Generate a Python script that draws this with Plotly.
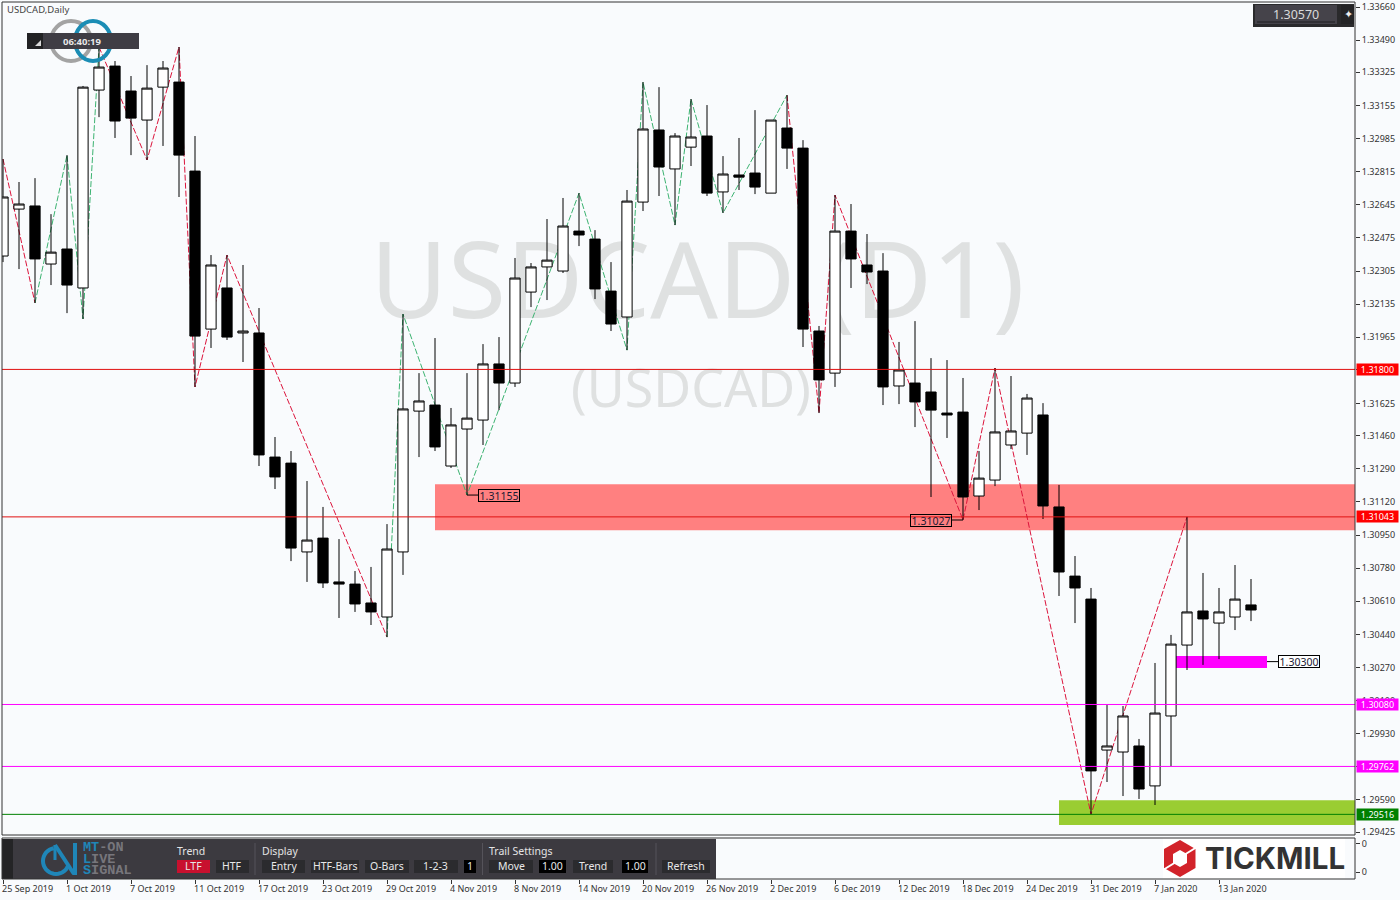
import math
import plotly.graph_objects as go

# ---------- data ----------
opens = [1.32382,1.32623,1.32639,1.32341,1.32418,1.32218,1.33234,1.33357,1.33229,1.33080,1.33249,1.33275,1.32818,1.32007,1.32218,1.31987,
         1.31987,1.31350,1.31319,1.30863,1.30934,1.30709,1.30698,1.30601,1.30529,1.30863,1.31586,1.31617,1.31304,1.31494,1.31540,1.31828,
         1.31730,1.32197,1.32326,1.32305,1.32510,1.32469,1.32202,1.32069,1.32659,1.33029,1.32829,1.32941,1.32998,1.32711,1.32798,1.32808,
         1.32705,1.33039,1.32936,1.31997,1.31781,1.32510,1.32336,1.32305,1.31715,1.31730,1.31684,1.31576,1.31581,1.31150,1.31232,1.31412,
         1.31473,1.31566,1.31094,1.30739,1.30621,1.29846,1.29836,1.29867,1.29662,1.30021,1.30385,1.30560,1.30498,1.30529,1.30591]
highs = [1.32880,1.32762,1.32782,1.32597,1.32900,1.33255,1.33455,1.33383,1.33306,1.33362,1.33383,1.33455,1.32998,1.32387,1.32387,1.32336,
         1.32115,1.31453,1.31381,1.31227,1.31094,1.30929,1.30765,1.30786,1.31006,1.32084,1.31781,1.31961,1.31602,1.31781,1.31930,1.31966,
         1.32372,1.32346,1.32572,1.32680,1.32705,1.32515,1.32351,1.32721,1.33275,1.33249,1.33013,1.33188,1.33157,1.32895,1.32988,1.33131,
         1.33080,1.33208,1.32977,1.32023,1.32695,1.32649,1.32495,1.32397,1.31941,1.32048,1.31858,1.31848,1.31756,1.31381,1.31807,1.31766,
         1.31674,1.31627,1.31207,1.30842,1.30678,1.30077,1.30072,1.29903,1.30293,1.30437,1.31043,1.30755,1.30678,1.30796,1.30724]
lows  = [1.32351,1.32315,1.32141,1.32233,1.32089,1.32059,1.33095,1.32988,1.32900,1.32875,1.32947,1.32685,1.31710,1.31910,1.31951,1.31838,
         1.31304,1.31186,1.30816,1.30709,1.30678,1.30524,1.30555,1.30488,1.30426,1.30745,1.31350,1.31381,1.31294,1.31155,1.31412,1.31591,
         1.31710,1.32120,1.32156,1.32295,1.32433,1.32161,1.31997,1.31899,1.32613,1.32690,1.32541,1.32844,1.32690,1.32603,1.32721,1.32700,
         1.32705,1.32829,1.31915,1.31576,1.31710,1.32218,1.32238,1.31617,1.31622,1.31504,1.31145,1.31448,1.31027,1.31078,1.31201,1.31391,
         1.31361,1.31032,1.30637,1.30498,1.29516,1.29682,1.29610,1.29595,1.29564,1.29764,1.30257,1.30283,1.30313,1.30462,1.30508]
closes = [1.32685,1.32649,1.32367,1.32402,1.32233,1.33249,1.33352,1.33075,1.33090,1.33244,1.33347,1.32900,1.31971,1.32336,1.31966,1.31997,
          1.31361,1.31248,1.30883,1.30924,1.30704,1.30698,1.30596,1.30555,1.30878,1.31597,1.31638,1.31402,1.31515,1.31550,1.31828,1.31730,
          1.32269,1.32326,1.32361,1.32536,1.32490,1.32213,1.32033,1.32664,1.33034,1.32839,1.32998,1.32993,1.32705,1.32803,1.32787,1.32736,
          1.33080,1.32936,1.32007,1.31746,1.32510,1.32367,1.32300,1.31710,1.31797,1.31633,1.31591,1.31566,1.31145,1.31242,1.31479,1.31484,
          1.31653,1.31099,1.30760,1.30678,1.29739,1.29867,1.30021,1.29646,1.30036,1.30390,1.30555,1.30519,1.30555,1.30621,1.30565]

red_x = [0,2,None,6,9,11,12,14,24,None,49,51,52,60,62,68,74]
red_y = [1.32880,1.32141,None,1.33455,1.32875,1.33455,1.31710,1.32387,1.30426,None,1.33208,1.31576,1.32695,1.31027,1.31807,1.29516,1.31043]
green_x = [2,4,5,6,None,24,25,29,36,39,40,42,43,45,49]
green_y = [1.32141,1.32900,1.32059,1.33455,None,1.30426,1.32084,1.31155,1.32705,1.31899,1.33275,1.32541,1.33188,1.32603,1.33208]

date_labels = ["25 Sep 2019","1 Oct 2019","7 Oct 2019","11 Oct 2019","17 Oct 2019","23 Oct 2019","29 Oct 2019",
               "4 Nov 2019","8 Nov 2019","14 Nov 2019","20 Nov 2019","26 Nov 2019","2 Dec 2019","6 Dec 2019",
               "12 Dec 2019","18 Dec 2019","24 Dec 2019","31 Dec 2019","7 Jan 2020","13 Jan 2020"]
price_ticks = [1.33660,1.33490,1.33325,1.33155,1.32985,1.32815,1.32645,1.32475,1.32305,1.32135,
               1.31965,1.31800,1.31625,1.31460,1.31290,1.31120,1.30950,1.30780,1.30610,1.30440,
               1.30270,1.30100,1.29930,1.29760,1.29590,1.29425]
# the labels of 1.31800 and 1.29760 are fully covered by the level tags in the reference
price_tick_text = ["1.33660","1.33490","1.33325","1.33155","1.32985","1.32815","1.32645","1.32475","1.32305","1.32135",
                   "1.31965","","1.31625","1.31460","1.31290","1.31120","1.30950","1.30780","1.30610","1.30440",
                   "1.30270","1.30100","1.29930","","1.29590","1.29425"]
level_values = ["1.31800","1.31043","1.30080","1.29762","1.29516"]
level_colors = ["#FF0000","#FF0000","#FF00FF","#FF00FF","#008000"]
line_colors  = ["#E01010","#E01010","#FF00FF","#FF00FF","#008000"]
zones = [(27, 84.5, 1.31211, 1.30975, "#FF8080"),
         (66, 84.5, 1.29589, 1.29461, "#9ACD32"),
         (73, 79, 1.30329, 1.30267, "#FF00FF")]
point_labels = [("1.31155", 29, 1, 1.31155, "rgba(0,0,0,0)"),
                ("1.31027", 60, -1, 1.31027, "rgba(0,0,0,0)"),
                ("1.30300", 79, 1, 1.30300, "#FFFFFF")]
Y_RANGE = [1.29410, 1.33686]
BG = "#F9FBFD"
FONT = "Noto Sans"
DARK = "#333333"

# ---------- helpers for the window furniture (pixel based) ----------
L, R, T, B = 2, 1355, 2, 879
def px(x): return (x - L) / (R - L)
def py(y): return (B - y) / (B - T)

shapes, annos = [], []
def rect(x0, y0, x1, y1, fill, line=None, layer="above"):
    shapes.append(dict(type="rect", xref="paper", yref="paper", x0=px(x0), x1=px(x1), y0=py(y0), y1=py(y1),
                       fillcolor=fill, line=dict(color=line or fill, width=1 if line else 0), layer=layer))
def seg(x0, y0, x1, y1, color, w=1):
    shapes.append(dict(type="line", xref="paper", yref="paper", x0=px(x0), x1=px(x1), y0=py(y0), y1=py(y1),
                       line=dict(color=color, width=w), layer="above"))
def poly(pts, fill):
    d = "M" + " L".join(f"{px(a):.5f},{py(b):.5f}" for a, b in pts) + " Z"
    shapes.append(dict(type="path", xref="paper", yref="paper", path=d, fillcolor=fill, line=dict(width=0), layer="above"))
def stroke(pts, color, w):
    d = "M" + " L".join(f"{px(a):.5f},{py(b):.5f}" for a, b in pts)
    shapes.append(dict(type="path", xref="paper", yref="paper", path=d, line=dict(color=color, width=w), layer="above"))
def txt(x, y, s, size=10.5, color="#E4E4E4", anchor="left", family=FONT, height=None):
    a = dict(xref="paper", yref="paper", x=px(x), y=py(y), text=s, showarrow=False, xanchor=anchor, yanchor="middle",
             font=dict(size=size, color=color, family=family), borderpad=0, borderwidth=0)
    if height:
        a["height"] = height
    annos.append(a)

# ---------- price zones, levels, labels ----------
for x0, x1, y0, y1, c in zones:
    shapes.append(dict(type="rect", xref="x", yref="y", x0=x0, x1=x1, y0=y0, y1=y1, fillcolor=c, line=dict(width=0), layer="below"))
for v, c in zip(level_values, line_colors):
    shapes.append(dict(type="line", xref="paper", yref="y", x0=0, x1=1, y0=float(v), y1=float(v), line=dict(color=c, width=1), layer="above"))
for v, c in zip(level_values, level_colors):
    annos.append(dict(xref="paper", yref="y", x=px(1356), y=float(v), text=v, showarrow=False, xanchor="left", yanchor="middle",
                      width=41, height=11, bgcolor=c, font=dict(size=9, color="#FFFFFF", family=FONT), borderpad=0))
for s, xi, d, v, bg in point_labels:
    shapes.append(dict(type="line", xref="x", yref="y", x0=xi, x1=xi + d * 0.7, y0=v, y1=v, line=dict(color="#000000", width=1), layer="above"))
    annos.append(dict(xref="x", yref="y", x=xi + d * 0.7, y=v, text=s, showarrow=False, xanchor="left" if d > 0 else "right", yanchor="middle",
                      width=40, height=11, bgcolor=bg, bordercolor="#000000", borderwidth=1, borderpad=0,
                      font=dict(size=10.5, color="#1A1A33", family=FONT)))

# ---------- top-left caption, rings and timer ----------
txt(7, 10, "USDCAD,Daily", 9.5, "#444444")
shapes.append(dict(type="circle", xref="paper", yref="paper", x0=px(51), x1=px(91), y0=py(61), y1=py(21),
                   line=dict(color="#A3A3A3", width=4), fillcolor="rgba(0,0,0,0)", layer="above"))
shapes.append(dict(type="circle", xref="paper", yref="paper", x0=px(75), x1=px(111), y0=py(61), y1=py(21),
                   line=dict(color="#1B8DB5", width=4), fillcolor="rgba(0,0,0,0)", layer="above"))
rect(27, 33, 139, 49, "#3F3D44")
rect(27, 33, 43, 49, "#222224")
poly([(35, 46), (41, 46), (41, 40)], "#D8D8D8")
txt(82, 41, "<b>06:40:19</b>", 9.5, "#E8E8E8", "center")

# ---------- current price box ----------
rect(1253, 4, 1354, 27, "#2A2A2C")
rect(1255, 5, 1337, 24, "#45434A")
seg(1257, 22, 1335, 22, "#1E1E20")
rect(1341, 5, 1354, 24, "#242426")
txt(1296, 14, "1.30570", 12.5, "#DADADA", "center")
txt(1348, 14, "✦", 11, "#EEEEEE", "center", "DejaVu Sans")

# ---------- toolbar ----------
rect(2, 839, 716, 879, "#3C3A40")
rect(2, 839, 13, 879, "#242426")
for x in (255, 482.5, 656):
    seg(x, 843, x, 875, "#55535A")
txt(177, 851, "Trend"); txt(262, 851, "Display"); txt(489, 851, "Trail Settings")
buttons = [(177, 210, "LTF", "#C8102E"), (216, 249, "HTF", "#2B2B2E"), (262, 305, "Entry", "#2B2B2E"),
           (311, 359, "HTF-Bars", "#2B2B2E"), (365, 409, "O-Bars", "#2B2B2E"), (414, 458, "1-2-3", "#2B2B2E"),
           (464, 476, "1", "#000000"), (489, 533, "Move", "#2B2B2E"), (539, 566, "1.00", "#000000"),
           (573, 613, "Trend", "#2B2B2E"), (622, 648, "1.00", "#000000"), (662, 710, "Refresh", "#2B2B2E")]
for x0, x1, s, c in buttons:
    rect(x0, 860, x1, 873, c)
    txt((x0 + x1) / 2, 866, s, 10.5, "#E8E8E8", "center")
# MT-ON LIVE SIGNAL logo
BL, GR = "#1F86B8", "#77767C"
arc = [(56 + 13 * math.cos(math.radians(a)), 861 - 13 * math.sin(math.radians(a))) for a in range(100, 350, 10)]
stroke(arc, BL, 4)
seg(55, 845, 55, 860, BL, 3); seg(55, 845, 74, 874, BL, 4); seg(75, 843, 75, 875, BL, 4)
MONO = "Liberation Mono"
txt(83, 847, f"<b><span style='color:{BL}'>MT</span><span style='color:{GR}'>-ON</span></b>", 13.5, GR, family=MONO, height=10)
txt(83, 859, f"<b><span style='color:{BL}'>L</span><span style='color:{GR}'>IVE</span></b>", 13.5, GR, family=MONO, height=10)
txt(83, 870, f"<b><span style='color:{BL}'>S</span><span style='color:{GR}'>IGNAL</span></b>", 13.5, GR, family=MONO, height=10)

# ---------- Tickmill logo ----------
rect(1163, 838.5, 1345, 878.5, "#FFFFFF")
RD = "#D2232A"
poly([(1180, 840), (1195.5, 849), (1195.5, 868), (1180, 877), (1164, 868), (1164, 849)], RD)
poly([(1180, 850), (1187, 854), (1187, 863), (1180, 867), (1173, 863), (1173, 854)], "#FFFFFF")
seg(1184, 855, 1197, 847, "#FFFFFF", 2)
seg(1176, 862, 1163, 870, "#FFFFFF", 2)
txt(1205, 858, "<b>TICKMILL</b>", 29.5, "#333333", "left", "Inter")

# ---------- frames & date labels ----------
for i, s in enumerate(date_labels):
    annos.append(dict(xref="x", yref="paper", x=i * 4, y=py(888), text=s, showarrow=False, xanchor="left", yanchor="middle", xshift=-2,
                      font=dict(size=9, color=DARK, family=FONT), borderpad=0))
rect(2, 2, 1355, 835, "rgba(0,0,0,0)", "#333333")
rect(2, 838, 1355, 879, "rgba(0,0,0,0)", "#333333")

# ---------- traces ----------
idx = list(range(len(opens)))
fig = go.Figure()
fig.add_trace(go.Scatter(x=[43.4, 43.0], y=[1.32200, 1.31675], mode="text", text=["USDCAD (D1)", "(USDCAD)"],
                         textposition="middle center", textfont=dict(size=[106, 52], color="#DFE1E1", family=FONT),
                         hoverinfo="skip", showlegend=False))
fig.add_trace(go.Scatter(x=red_x, y=red_y, mode="lines", line=dict(color="#DC143C", width=1, dash="6px,2px"), hoverinfo="skip", showlegend=False))
fig.add_trace(go.Scatter(x=green_x, y=green_y, mode="lines", line=dict(color="#3CB371", width=1, dash="6px,2px"), hoverinfo="skip", showlegend=False))
fig.add_trace(go.Candlestick(x=idx, open=opens, high=highs, low=lows, close=closes, yaxis="y3", whiskerwidth=0,
                             increasing=dict(line=dict(color="#000000", width=1), fillcolor="#FFFFFF"),
                             decreasing=dict(line=dict(color="#000000", width=1), fillcolor="#000000"),
                             hoverinfo="skip", showlegend=False))
fig.add_trace(go.Scatter(x=[], y=[], yaxis="y2", hoverinfo="skip", showlegend=False))

fig.update_layout(
    width=1400, height=900, autosize=False, showlegend=False,
    margin=dict(l=L, r=1400 - R, t=T, b=900 - B, pad=0),
    paper_bgcolor=BG, plot_bgcolor=BG, boxgap=0.36, boxgroupgap=0,
    font=dict(family=FONT, size=9, color=DARK),
    shapes=shapes, annotations=annos,
    xaxis=dict(range=[-1 / 16, 84.5], anchor="y2", rangeslider=dict(visible=False), showgrid=False, zeroline=False, automargin=False,
               tickvals=[i * 4 for i in range(len(date_labels))], ticktext=[""] * len(date_labels), ticks="outside", ticklen=4,
               tickcolor=DARK, tickwidth=1, showline=False),
    yaxis=dict(domain=[py(835), 1], range=Y_RANGE, side="right", anchor="x", showgrid=False, zeroline=False, automargin=False,
               tickvals=price_ticks, ticktext=price_tick_text, ticks="outside", ticklen=4, tickcolor=DARK,
               tickfont=dict(size=9, color=DARK, family=FONT), showline=False),
    yaxis2=dict(domain=[0, py(838)], range=[-0.25, 1.214], side="right", anchor="x", showgrid=False, zeroline=False, automargin=False,
                tickvals=[0, 1], ticktext=["0", "0"], ticks="outside", ticklen=4, tickcolor=DARK,
                tickfont=dict(size=9, color=DARK, family=FONT), showline=False),
    yaxis3=dict(range=Y_RANGE, overlaying="y", side="right", anchor="x", visible=False, showgrid=False, zeroline=False, automargin=False),
)
fig.write_html("out.html", config={"displayModeBar": False},
               post_script="document.body.style.margin='0';document.body.style.overflow='hidden';")
